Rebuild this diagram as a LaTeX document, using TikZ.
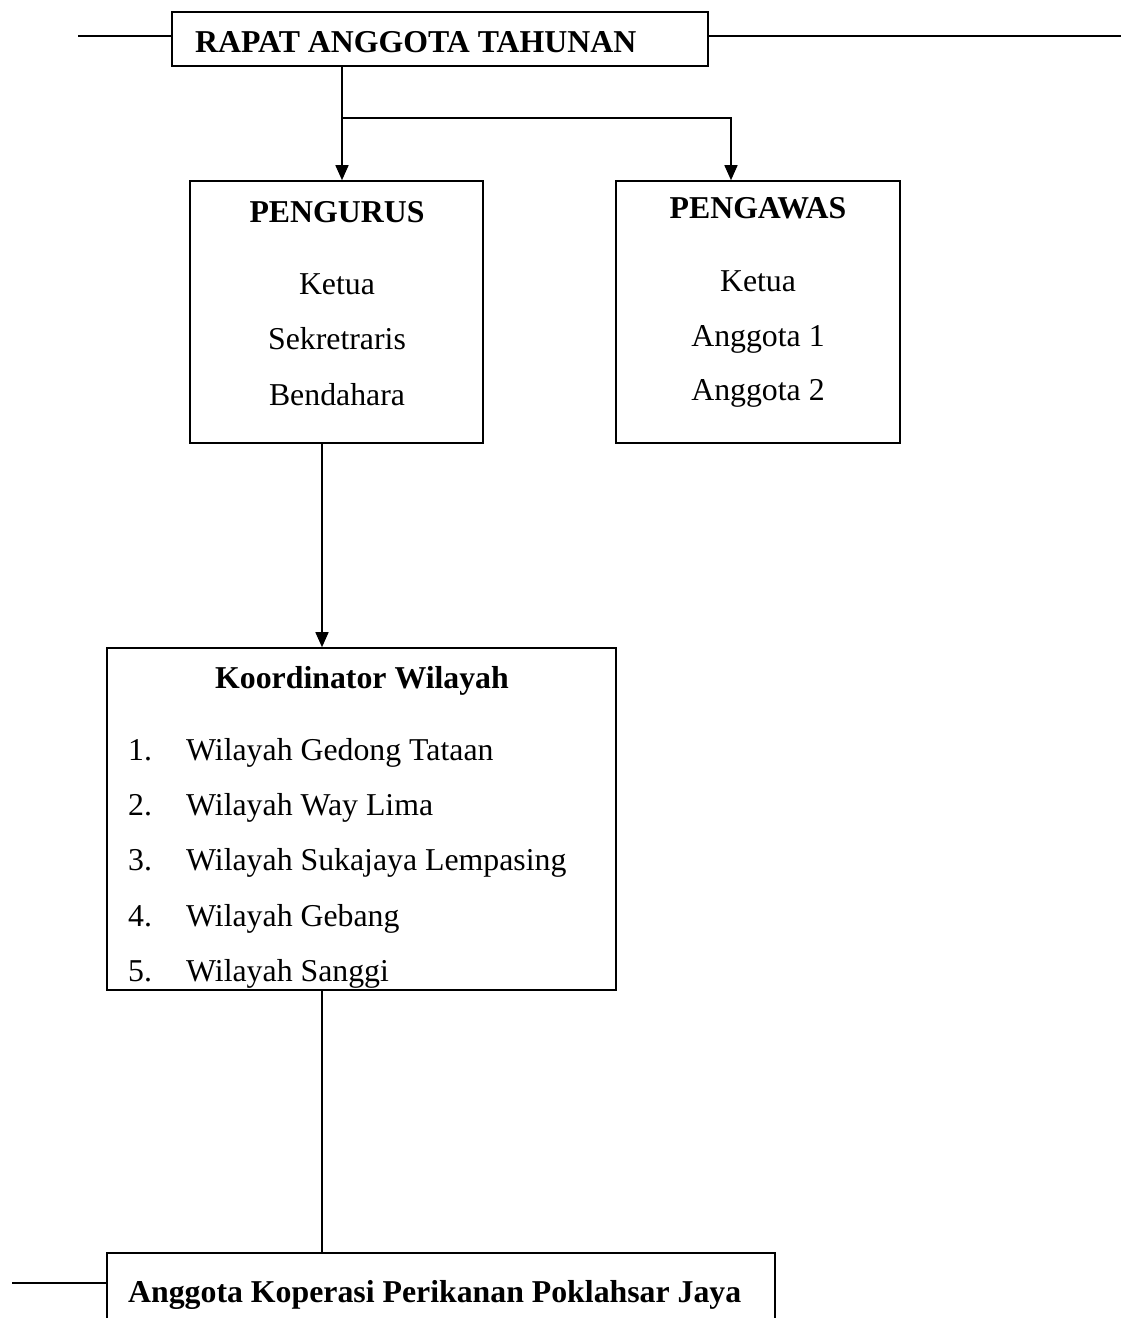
\documentclass[tikz,border=0pt]{standalone}
\usepackage{fontspec}
\setmainfont{Liberation Serif}
\usetikzlibrary{arrows.meta}
\tikzset{
  kotak/.style={draw, line width=1.6pt, rectangle, inner sep=0pt},
  txt/.style={font=\fontsize{31.8}{38}\selectfont, inner sep=0pt},
  judul/.style={txt, font=\fontsize{31.8}{38}\selectfont\bfseries},
  garis/.style={line width=1.5pt},
  panah/.style={garis, -{Triangle[length=15pt, width=13pt]}}
}
\begin{document}
\begin{tikzpicture}[x=1pt, y=-1pt]
\useasboundingbox (0,0) rectangle (1121,1318);
% kotak
\node[kotak, minimum width=536pt, minimum height=54pt] (rat) at (440,39) {};
\node[kotak, minimum width=293pt, minimum height=262pt] (pengurus) at (336.5,312) {};
\node[kotak, minimum width=284pt, minimum height=262pt] (pengawas) at (758,312) {};
\node[kotak, minimum width=509pt, minimum height=342pt] (korwil) at (361.5,819) {};
\node[kotak, minimum width=668pt, minimum height=87pt] (anggota) at (441,1296.5) {};
% teks
\node[judul, anchor=base west] (tRat) at (195,52) {RAPAT ANGGOTA TAHUNAN};
\node[judul, anchor=base] (tPengurus) at (337,222) {PENGURUS};
\node[txt, anchor=base] (p1) at (337,294) {Ketua};
\node[txt, anchor=base] (p2) at (337,349) {Sekretraris};
\node[txt, anchor=base] (p3) at (337,405) {Bendahara};
\node[judul, anchor=base] (tPengawas) at (758,218) {PENGAWAS};
\node[txt, anchor=base] (s1) at (758,291) {Ketua};
\node[txt, anchor=base] (s2) at (758,346) {Anggota 1};
\node[txt, anchor=base] (s3) at (758,400) {Anggota 2};
\node[judul, anchor=base] (tKorwil) at (362,688) {Koordinator Wilayah};
\foreach \n/\y/\nama in {1/760/Gedong Tataan, 2/815/Way Lima, 3/870/Sukajaya Lempasing, 4/926/Gebang, 5/981/Sanggi}{
  \node[txt, anchor=base west] (no\n) at (128,\y) {\n.};
  \node[txt, anchor=base west] (w\n) at (186,\y) {Wilayah \nama};
}
\node[judul, anchor=base west] (tAnggota) at (128,1302) {Anggota Koperasi Perikanan Poklahsar Jaya};
% garis
\coordinate (kiriAtas) at (78,36);
\coordinate (kananAtas) at (1121,36);
\coordinate (cabang) at (342,118);
\coordinate (belok) at (731,118);
\coordinate (turun) at (322,0);
\coordinate (kiriBawah) at (12,1283);
\draw[garis] (kiriAtas) -- (kiriAtas -| rat.west);
\draw[garis] (kananAtas -| rat.east) -- (kananAtas);
\draw[garis] (cabang |- rat.south) -- (cabang);
\draw[panah] (cabang) -- (cabang |- pengurus.north);
\draw[panah] (cabang) -- (belok) -- (belok |- pengawas.north);
\draw[panah] (turun |- pengurus.south) -- (turun |- korwil.north);
\draw[garis] (turun |- korwil.south) -- (turun |- anggota.north);
\draw[garis] (kiriBawah) -- (kiriBawah -| anggota.west);
\end{tikzpicture}
\end{document}
